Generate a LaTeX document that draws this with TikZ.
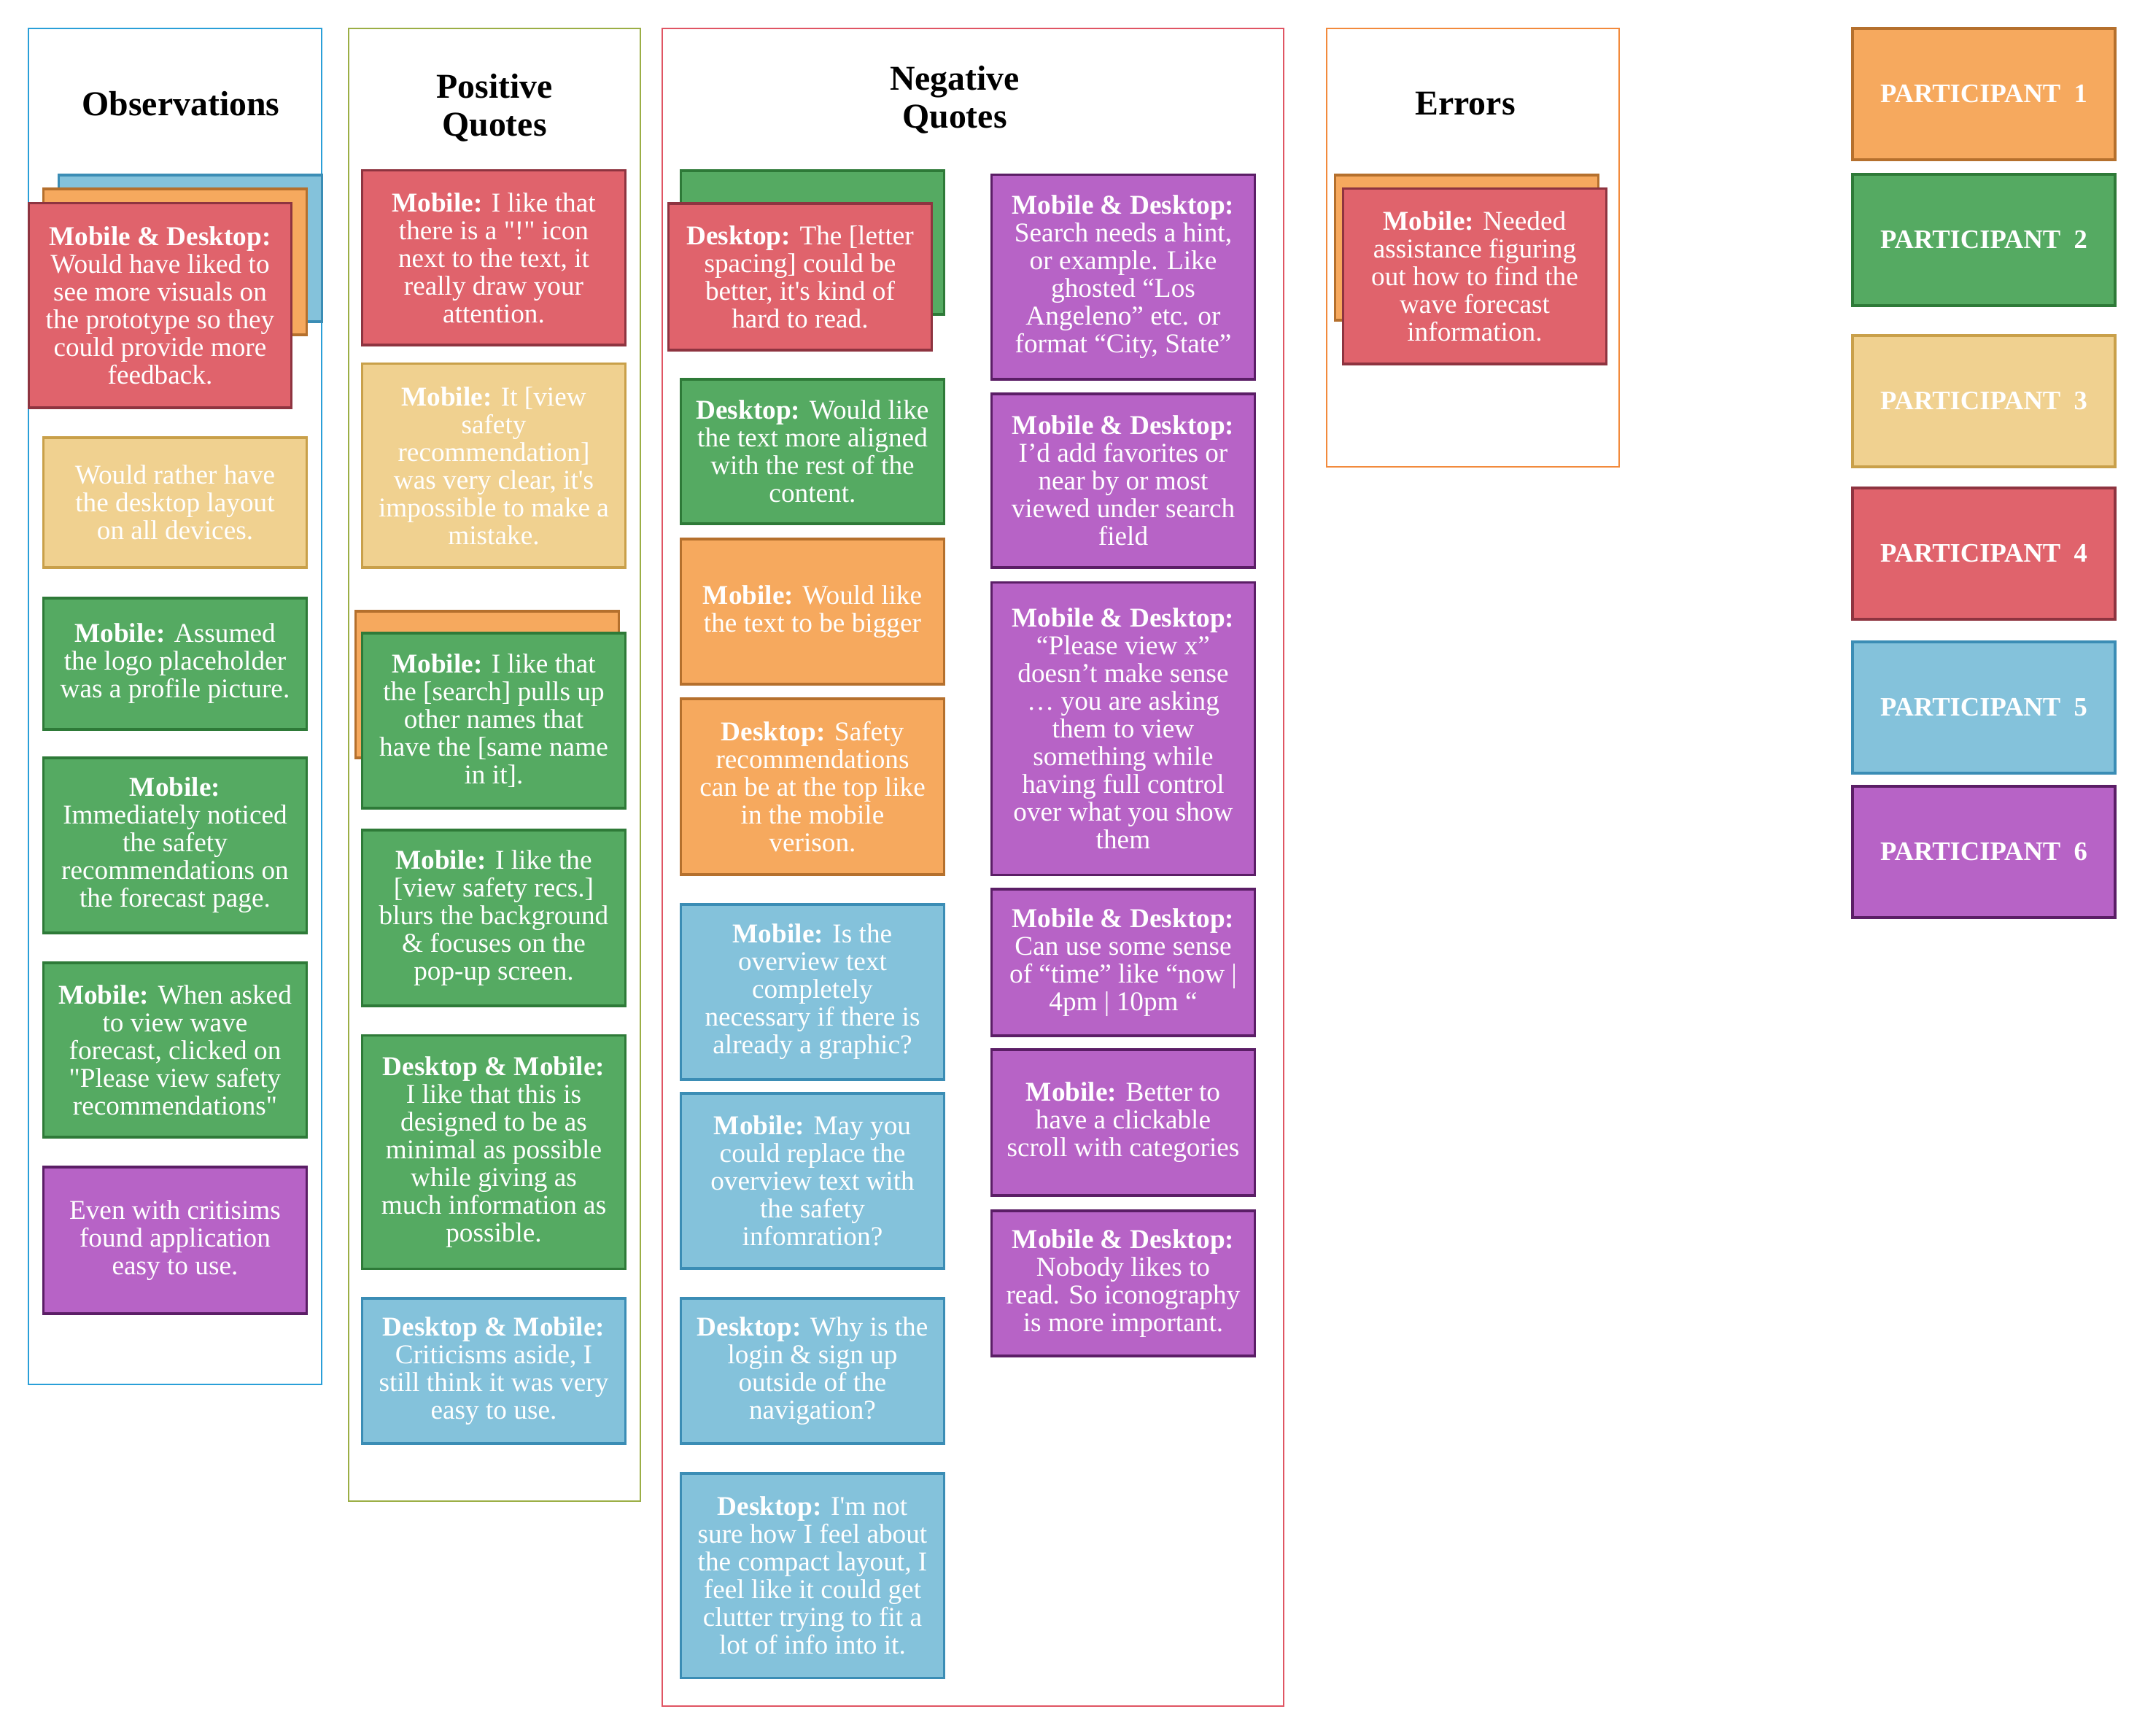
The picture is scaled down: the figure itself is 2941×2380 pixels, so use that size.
\documentclass[tikz,border=0pt]{standalone}
\usepackage{fontspec}
\setmainfont{Liberation Serif}
\usepackage{tikz}
\usetikzlibrary{positioning}

\definecolor{noteOrange}{HTML}{F6A95E}
\definecolor{noteOrangeD}{HTML}{B5702D}
\definecolor{noteGreen}{HTML}{55AA62}
\definecolor{noteGreenD}{HTML}{2E7A38}
\definecolor{noteYellow}{HTML}{F0D190}
\definecolor{noteYellowD}{HTML}{C9A04A}
\definecolor{noteRed}{HTML}{E0636C}
\definecolor{noteRedD}{HTML}{8E3440}
\definecolor{noteBlue}{HTML}{84C2DB}
\definecolor{noteBlueD}{HTML}{3B8DB5}
\definecolor{notePurple}{HTML}{B763C6}
\definecolor{notePurpleD}{HTML}{5B1E66}
\definecolor{obsFrame}{HTML}{2A9FD8}
\definecolor{posFrame}{HTML}{9BAE45}
\definecolor{negFrame}{HTML}{E05563}
\definecolor{errFrame}{HTML}{F28A3C}

\newcommand{\sq}{\textquotesingle}
\newcommand{\dq}{\textquotedbl}

\begin{document}
\begin{tikzpicture}[x=0.01cm, y=-0.01cm,
    card/.style={rectangle, draw, line width=0.9pt, text=white, align=center,
      inner sep=0pt, minimum width=3.6cm, font=\fontsize{10.6}{10.8}\selectfont},
    p1_card/.style={card, fill=noteOrange, draw=noteOrangeD},
    p2_card/.style={card, fill=noteGreen, draw=noteGreenD},
    p3_card/.style={card, fill=noteYellow, draw=noteYellowD},
    p4_card/.style={card, fill=noteRed, draw=noteRedD},
    p5_card/.style={card, fill=noteBlue, draw=noteBlueD},
    p6_card/.style={card, fill=notePurple, draw=notePurpleD},
    part_box/.style={minimum height=1.8cm, line width=1.1pt,
      font=\fontsize{10.4}{11}\selectfont\bfseries},
    col_frame/.style={line width=0.8pt},
    col_title/.style={font=\fontsize{13.6}{15}\selectfont\bfseries, align=center, anchor=base}
  ]
  \useasboundingbox (0,0) rectangle (2941,2380);

  % --- Column frames ---
  \draw[col_frame, obsFrame] (39,39) rectangle (441,1898);
  \draw[col_frame, posFrame] (478,39) rectangle (878,2058);
  \draw[col_frame, negFrame] (908,39) rectangle (1760,2339);
  \draw[col_frame, errFrame] (1819,39) rectangle (2220,640);

  % --- Column titles (base = last line) ---
  \node[col_title] (obs_title) at (248,159) {Observations};
  \node[col_title] (pos_title) at (678,187) {Positive\\Quotes};
  \node[col_title] (neg_title) at (1309,176) {Negative\\Quotes};
  \node[col_title] (err_title) at (2009,158) {Errors};

  % --- Observations ---
  \node[p5_card, minimum height=2.01cm] (obs_b5) at (261,340.5) {};
  \node[p1_card, minimum height=2.0cm] (obs_b1) at (240,359) {};
  \node[p4_card, minimum height=2.8cm] (obs1) at (219.5,419)
    {\textbf{Mobile \& Desktop:}\\Would have liked to\\see more visuals on\\the prototype so they\\could provide more\\feedback.};
  \node[p3_card, minimum height=1.78cm] (obs2) at (240,689)
    {Would rather have\\the desktop layout\\on all devices.};
  \node[p2_card, minimum height=1.8cm] (obs3) at (240,910)
    {\textbf{Mobile:} Assumed\\the logo placeholder\\was a profile picture.};
  \node[p2_card, minimum height=2.4cm] (obs4) at (240,1159)
    {\textbf{Mobile:}\\Immediately noticed\\the safety\\recommendations on\\the forecast page.};
  \node[p2_card, minimum height=2.39cm] (obs5) at (240,1439.5)
    {\textbf{Mobile:} When asked\\to view wave\\forecast, clicked on\\\dq Please view safety\\recommendations\dq};
  \node[p6_card, minimum height=2.01cm] (obs6) at (240,1700.5)
    {Even with critisims\\found application\\easy to use.};

  % --- Positive quotes ---
  \node[p4_card, minimum height=2.39cm] (pos1) at (677,353.5)
    {\textbf{Mobile:} I like that\\there is a \dq !\dq\ icon\\next to the text, it\\really draw your\\attention.};
  \node[p3_card, minimum height=2.79cm] (pos2) at (677,638.5)
    {\textbf{Mobile:} It [view\\safety\\recommendation]\\was very clear, it\sq s\\impossible to make a\\mistake.};
  \node[p1_card, minimum height=2.01cm] (pos_b1) at (668,938.5) {};
  \node[p2_card, minimum height=2.4cm] (pos3) at (677,988)
    {\textbf{Mobile:} I like that\\the [search] pulls up\\other names that\\have the [same name\\in it].};
  \node[p2_card, minimum height=2.41cm] (pos4) at (677,1258.5)
    {\textbf{Mobile:} I like the\\{[view safety recs.]}\\blurs the background\\\& focuses on the\\pop-up screen.};
  \node[p2_card, minimum height=3.19cm] (pos5) at (677,1579.5)
    {\textbf{Desktop \& Mobile:}\\I like that this is\\designed to be as\\minimal as possible\\while giving as\\much information as\\possible.};
  \node[p5_card, minimum height=1.99cm] (pos6) at (677,1879.5)
    {\textbf{Desktop \& Mobile:}\\Criticisms aside, I\\still think it was very\\easy to use.};

  % --- Negative quotes, left ---
  \node[p2_card, minimum height=1.97cm] (neg_b2) at (1114,332.5) {};
  \node[p4_card, minimum height=2.01cm] (neg1) at (1097,379.5)
    {\textbf{Desktop:} The [letter\\spacing] could be\\better, it\sq s kind of\\hard to read.};
  \node[p2_card, minimum height=1.98cm] (neg2) at (1114,619)
    {\textbf{Desktop:} Would like\\the text more aligned\\with the rest of the\\content.};
  \node[p1_card, minimum height=1.99cm] (neg3) at (1114,838.5)
    {\textbf{Mobile:} Would like\\the text to be bigger};
  \node[p1_card, minimum height=2.41cm] (neg4) at (1114,1078.5)
    {\textbf{Desktop:} Safety\\recommendations\\can be at the top like\\in the mobile\\verison.};
  \node[p5_card, minimum height=2.4cm] (neg5) at (1114,1360)
    {\textbf{Mobile:} Is the\\overview text\\completely\\necessary if there is\\already a graphic?};
  \node[p5_card, minimum height=2.4cm] (neg6) at (1114,1619)
    {\textbf{Mobile:} May you\\could replace the\\overview text with\\the safety\\infomration?};
  \node[p5_card, minimum height=1.99cm] (neg7) at (1114,1879.5)
    {\textbf{Desktop:} Why is the\\login \& sign up\\outside of the\\navigation?};
  \node[p5_card, minimum height=2.8cm] (neg8) at (1114,2160)
    {\textbf{Desktop:} I\sq m not\\sure how I feel about\\the compact layout, I\\feel like it could get\\clutter trying to fit a\\lot of info into it.};

  % --- Negative quotes, right ---
  \node[p6_card, minimum height=2.8cm] (negr1) at (1540,380)
    {\textbf{Mobile \& Desktop:}\\Search needs a hint,\\or example. Like\\ghosted “Los\\Angeleno” etc. or\\format “City, State”};
  \node[p6_card, minimum height=2.38cm] (negr2) at (1540,659)
    {\textbf{Mobile \& Desktop:}\\I’d add favorites or\\near by or most\\viewed under search\\field};
  \node[p6_card, minimum height=4.0cm] (negr3) at (1540,999)
    {\textbf{Mobile \& Desktop:}\\“Please view x”\\doesn’t make sense\\… you are asking\\them to view\\something while\\having full control\\over what you show\\them};
  \node[p6_card, minimum height=2.01cm] (negr4) at (1540,1319.5)
    {\textbf{Mobile \& Desktop:}\\Can use some sense\\of “time” like “now |\\4pm | 10pm “};
  \node[p6_card, minimum height=2.0cm] (negr5) at (1540,1539)
    {\textbf{Mobile:} Better to\\have a clickable\\scroll with categories};
  \node[p6_card, minimum height=1.99cm] (negr6) at (1540,1759.5)
    {\textbf{Mobile \& Desktop:}\\Nobody likes to\\read. So iconography\\is more important.};

  % --- Errors ---
  \node[p1_card, minimum height=1.99cm] (err_b1) at (2011,339.5) {};
  \node[p4_card, minimum height=2.4cm] (err1) at (2022,379)
    {\textbf{Mobile:} Needed\\assistance figuring\\out how to find the\\wave forecast\\information.};

  % --- Participant legend ---
  \node[p1_card, part_box] (part1) at (2720,129) {PARTICIPANT\hspace{0.5em}1};
  \node[p2_card, part_box] (part2) at (2720,329) {PARTICIPANT\hspace{0.5em}2};
  \node[p3_card, part_box] (part3) at (2720,550) {PARTICIPANT\hspace{0.5em}3};
  \node[p4_card, part_box] (part4) at (2720,759) {PARTICIPANT\hspace{0.5em}4};
  \node[p5_card, part_box] (part5) at (2720,970) {PARTICIPANT\hspace{0.5em}5};
  \node[p6_card, part_box] (part6) at (2720,1168) {PARTICIPANT\hspace{0.5em}6};
\end{tikzpicture}
\end{document}
